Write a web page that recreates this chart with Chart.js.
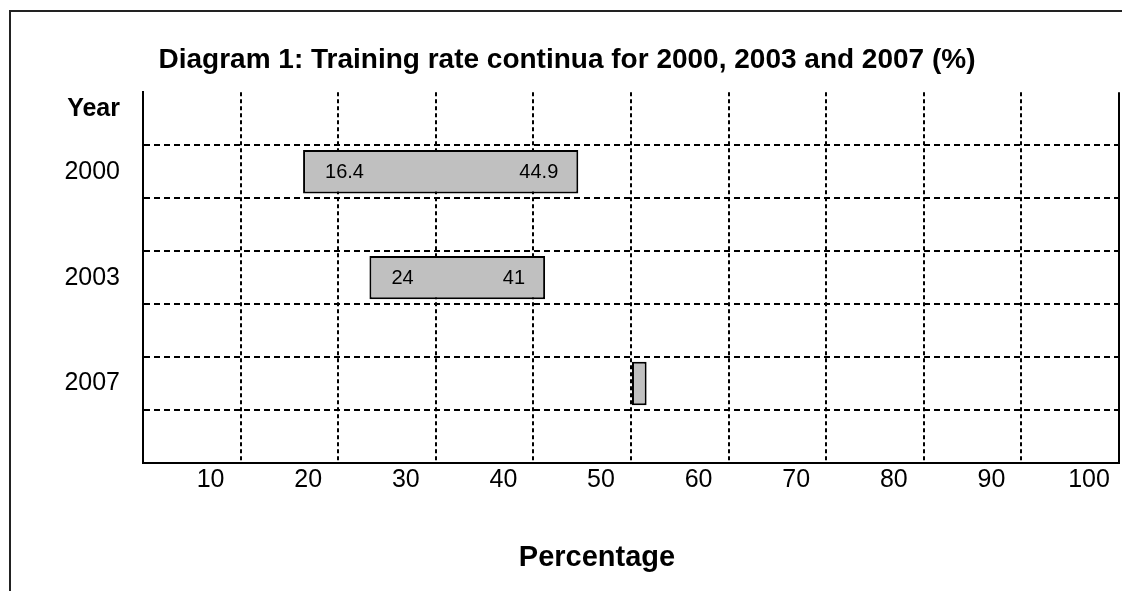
<!DOCTYPE html>
<html>
<head>
<meta charset="utf-8">
<script src="https://cdn.jsdelivr.net/npm/chart.js@4.4.1/dist/chart.umd.min.js"></script>
<style>
  body { margin: 0; background: #fff; }
  canvas { display: block; }
</style>
</head>
<body>
<canvas id="trainingChart" width="1130" height="591"></canvas>
<script>
// Data
const categories = ['Year', '2000', '', '2003', '', '2007', ''];
const rangeStart = [null, 16.4, null, 23.2, null, 50.1, null];
const rangeEnd = [null, 44.6, null, 41.2, null, 51.6, null];
const startLabels = ['', '16.4', '', '24', '', '', ''];
const endLabels = ['', '44.9', '', '41', '', '', ''];
const xTicks = [0, 10, 20, 30, 40, 50, 60, 70, 80, 90, 100];

const FONT = "'Liberation Sans', Arial, sans-serif";

// Build floating bar ranges
const ranges = rangeStart.map((s, i) => (s === null ? null : [s, rangeEnd[i]]));

// White page and the outer frame (top + left only)
const framePlugin = {
    id: 'frame',
    beforeDraw(chart) {
        const ctx = chart.ctx;
        ctx.save();
        ctx.fillStyle = '#fff';
        ctx.fillRect(0, 0, chart.width, chart.height);
        ctx.strokeStyle = '#222';
        ctx.lineWidth = 2;
        ctx.beginPath();
        ctx.moveTo(10, chart.height);
        ctx.lineTo(10, 11);
        ctx.lineTo(1122, 11);
        ctx.stroke();
        ctx.restore();
    }
};

// Numbers written inside the bars
const barLabelPlugin = {
    id: 'barLabels',
    afterDatasetsDraw(chart) {
        const ctx = chart.ctx;
        const meta = chart.getDatasetMeta(0);
        ctx.save();
        ctx.font = '20px ' + FONT;
        ctx.fillStyle = '#000';
        ctx.textBaseline = 'middle';
        meta.data.forEach((bar, i) => {
            if (!ranges[i]) return;
            const left = Math.min(bar.base, bar.x);
            const right = Math.max(bar.base, bar.x);
            if (startLabels[i]) {
                ctx.textAlign = 'left';
                ctx.fillText(startLabels[i], left + 22, bar.y + 1);
            }
            if (endLabels[i]) {
                ctx.textAlign = 'right';
                ctx.fillText(endLabels[i], right - 20, bar.y + 1);
            }
        });
        ctx.restore();
    }
};

// Axis title sits a little left of the plot centre in the original
const axisTitlePlugin = {
    id: 'axisTitle',
    afterDraw(chart) {
        const ctx = chart.ctx;
        const area = chart.chartArea;
        ctx.save();
        ctx.font = 'bold 29px ' + FONT;
        ctx.fillStyle = '#000';
        ctx.textAlign = 'center';
        ctx.textBaseline = 'middle';
        ctx.fillText('Percentage', (area.left + area.right) / 2 - 34, 558);
        ctx.restore();
    }
};

const ctx = document.getElementById('trainingChart').getContext('2d');
const trainingChart = new Chart(ctx, {
    type: 'bar',
    data: {
        labels: categories.map(c => (c === 'Year' ? ['Year', ''] : c)),
        datasets: [{
            data: ranges,
            backgroundColor: '#c0c0c0',
            borderColor: '#000',
            borderWidth: 2,
            borderSkipped: false,
            barPercentage: 0.82,
            categoryPercentage: 1
        }]
    },
    options: {
        indexAxis: 'y',
        responsive: false,
        animation: false,
        layout: { padding: { left: 4, right: 0, top: 0, bottom: 0 } },
        plugins: {
            legend: { display: false },
            tooltip: { enabled: false },
            title: {
                display: true,
                text: 'Diagram 1: Training rate continua for 2000, 2003 and 2007 (%)',
                color: '#000',
                font: { family: FONT, size: 28, weight: 'bold', lineHeight: 1.2 },
                padding: { top: 43, bottom: 15.7 }
            }
        },
        scales: {
            x: {
                type: 'linear',
                position: 'bottom',
                min: 0,
                max: 100,
                afterBuildTicks: (scale) => {
                    scale.ticks = xTicks.map(v => ({ value: v }));
                },
                ticks: {
                    color: '#000',
                    padding: 2,
                    labelOffset: -30,
                    maxRotation: 0,
                    font: { family: FONT, size: 25 },
                    callback: (v) => (v === 0 ? '' : v)
                },
                grid: {
                    drawTicks: false,
                    lineWidth: 2,
                    color: (c) => (c.tick && c.tick.value === 0 ? 'rgba(0,0,0,0)' : '#000')
                },
                border: {
                    display: true,
                    color: '#000',
                    width: 2,
                    dash: (c) => (c.tick && c.tick.value === 100 ? [] : [4, 3])
                },
                afterFit: (scale) => {
                    scale.height = 128;
                    scale.paddingLeft = 0;
                    scale.paddingRight = 11;
                }
            },
            y: {
                type: 'category',
                position: 'left',
                offset: true,
                ticks: {
                    color: '#000',
                    padding: 23,
                    font: (c) => (c.index === 0
                        ? { family: FONT, size: 25, weight: 'bold', lineHeight: 0.8 }
                        : { family: FONT, size: 25 })
                },
                grid: {
                    offset: true,
                    drawTicks: false,
                    lineWidth: 2,
                    color: (c) => (c.index === 0 ? 'rgba(0,0,0,0)' : '#000')
                },
                border: {
                    display: true,
                    color: '#000',
                    width: 2,
                    dash: [6, 4]
                },
                afterFit: (scale) => {
                    scale.width = 139;
                }
            }
        }
    },
    plugins: [framePlugin, barLabelPlugin, axisTitlePlugin]
});
</script>
</body>
</html>
